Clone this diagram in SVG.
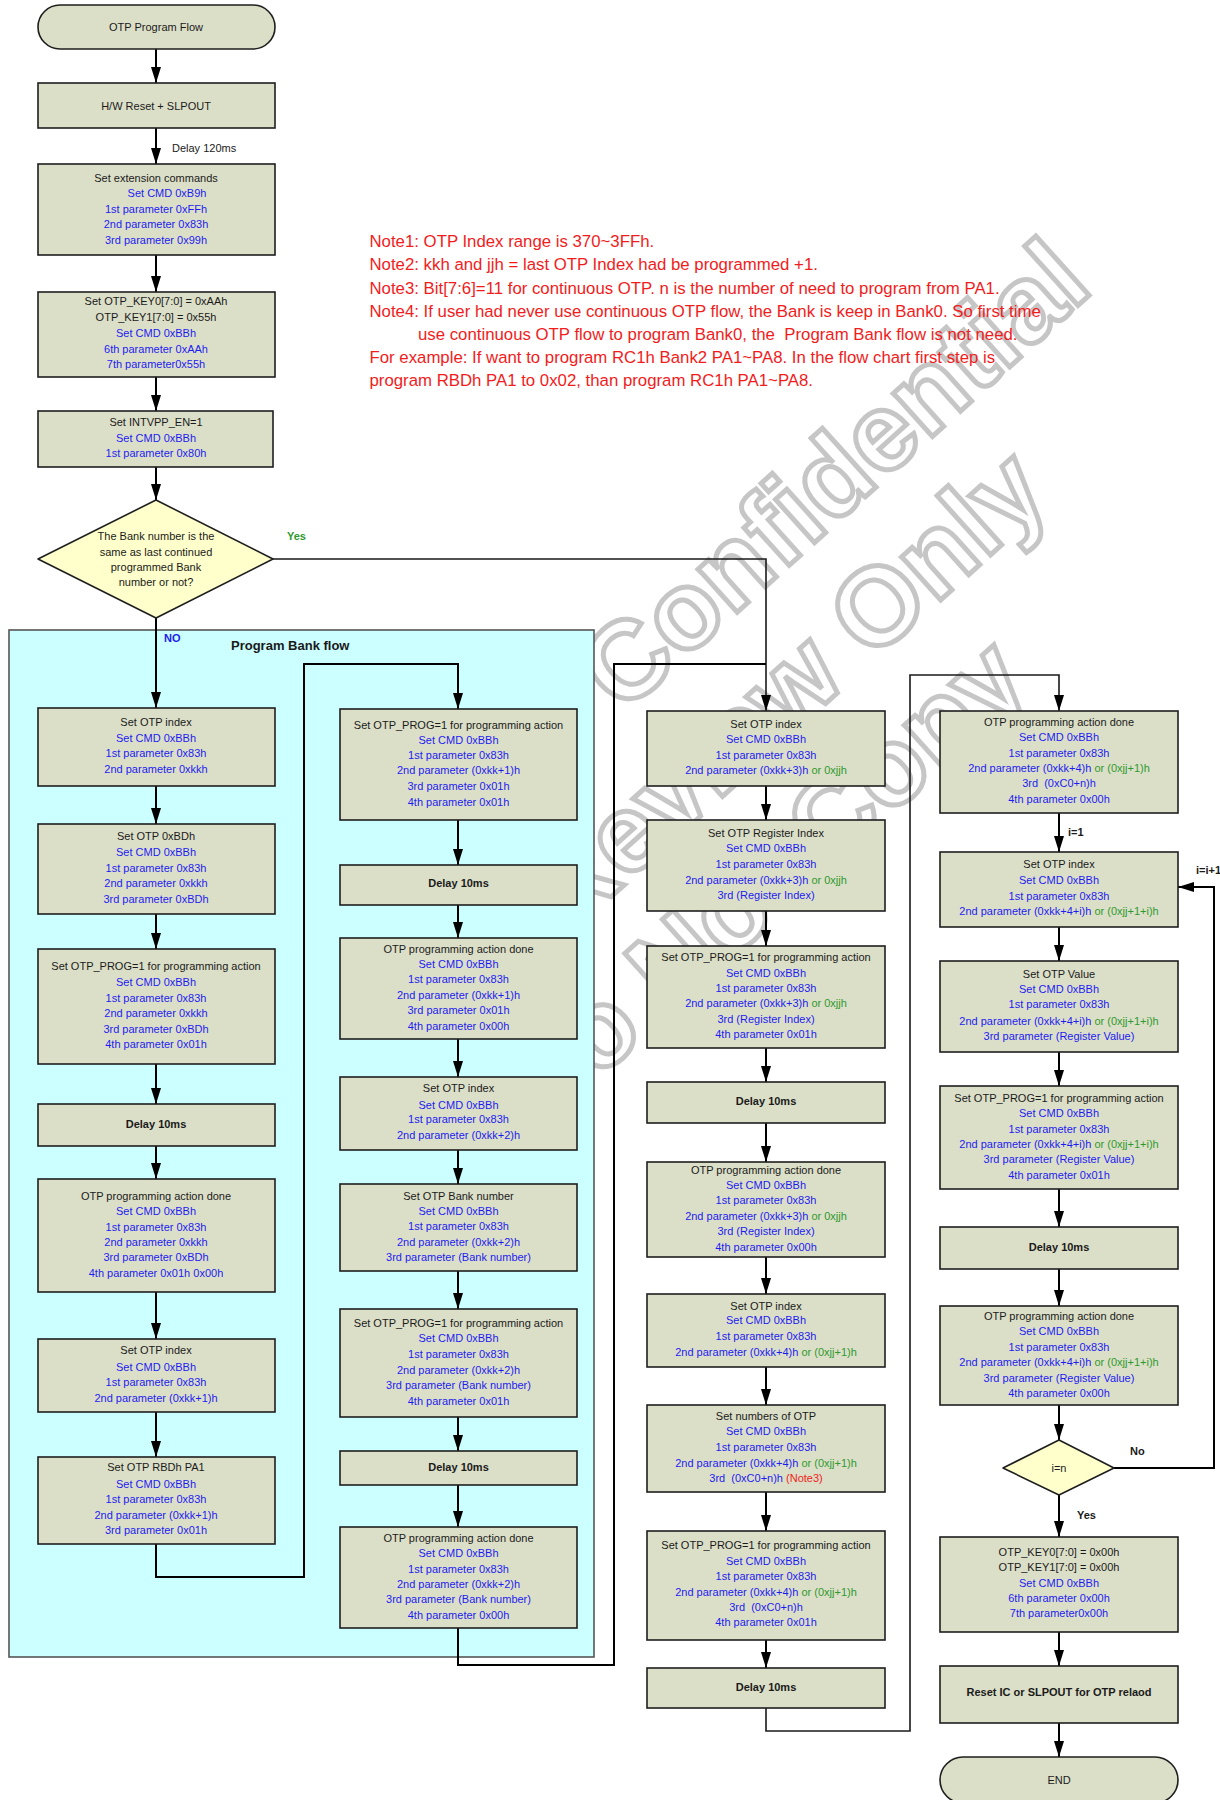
<svg xmlns="http://www.w3.org/2000/svg" width="1220" height="1800" viewBox="0 0 1220 1800">
<style>
.bg{fill:#ffffff}
.box{fill:#dcdfc8;stroke:#1e1e1e;stroke-width:1.6}
.term{fill:#dcdfc8;stroke:#1e1e1e;stroke-width:1.6}
.dia{fill:#ffffcc;stroke:#1e1e1e;stroke-width:1.6;stroke-linejoin:round}
.panel{fill:#ccffff;stroke:#555555;stroke-width:1.6}
.t{font-family:"Liberation Sans",Arial,Helvetica,sans-serif;font-size:11px;text-anchor:middle}
.l{font-family:"Liberation Sans",Arial,Helvetica,sans-serif;font-size:11px}
.k{fill:#1a1a1a}
.b{fill:#1c1cf2}
.g{fill:#2e9a2e}
.r{fill:#f21c1c}
.bd{font-weight:bold}
.note{font-family:"Liberation Sans",Arial,Helvetica,sans-serif;font-size:16.8px;fill:#f21c1c}
.wire{fill:none;stroke:#000000;stroke-width:2}
.wire2{fill:none;stroke:#1a1a1a;stroke-width:1.6}
.arr{marker-end:url(#ah)}
.wm{font-family:"Liberation Sans",Arial,Helvetica,sans-serif;font-weight:bold;font-size:110px;fill:none;stroke:#c6c6c6;stroke-width:5;text-anchor:middle}
</style>
<defs>
<marker id="ah" markerUnits="userSpaceOnUse" markerWidth="16" markerHeight="10" refX="16" refY="5" orient="auto"><path d="M0,0 L16,5 L0,10 z" fill="#000000"/></marker>
</defs>
<rect class="bg" x="0" y="0" width="1220" height="1800"/>

<g id="watermark" transform="rotate(-42 832 473)">
<text class="wm" x="832" y="513">Confidential</text>
<text class="wm" x="652" y="640">Review Only</text>
<text class="wm" x="505" y="767">Do Not Copy</text>
</g>

<g id="panel">
<rect class="panel" x="9" y="630" width="585" height="1027"/>
<text class="l bd k" x="231" y="650" style="font-size:13px">Program Bank flow</text>
</g>

<g id="connectors">
<path class="wire arr" d="M156,49 V83"/>
<path class="wire arr" d="M156,128 V164"/>
<path class="wire arr" d="M156,255 V292"/>
<path class="wire arr" d="M156,377 V411"/>
<path class="wire arr" d="M156,467 V500"/>
<path class="wire arr" d="M156,618 V708"/>
<path class="wire2 arr" d="M273,559 H766 V711"/>
<path class="wire arr" d="M156,786 V824"/>
<path class="wire arr" d="M156,914 V949"/>
<path class="wire arr" d="M156,1064 V1104"/>
<path class="wire arr" d="M156,1146 V1179"/>
<path class="wire arr" d="M156,1292 V1339"/>
<path class="wire arr" d="M156,1412 V1457"/>
<path class="wire arr" d="M156,1544 V1577 H304 V664 H458 V709"/>
<path class="wire arr" d="M458,820 V865"/>
<path class="wire arr" d="M458,905 V938"/>
<path class="wire arr" d="M458,1039 V1077"/>
<path class="wire arr" d="M458,1150 V1184"/>
<path class="wire arr" d="M458,1271 V1309"/>
<path class="wire arr" d="M458,1417 V1451"/>
<path class="wire arr" d="M458,1485 V1527"/>
<path class="wire" d="M458,1628 V1665 H614 V664 H766"/>
<path class="wire arr" d="M766,786 V820"/>
<path class="wire arr" d="M766,911 V946"/>
<path class="wire arr" d="M766,1048 V1082"/>
<path class="wire arr" d="M766,1123 V1162"/>
<path class="wire arr" d="M766,1257 V1294"/>
<path class="wire arr" d="M766,1367 V1405"/>
<path class="wire arr" d="M766,1492 V1531"/>
<path class="wire arr" d="M766,1640 V1668"/>
<path class="wire2 arr" d="M766,1708 V1731 H910 V675 H1059 V711"/>
<path class="wire arr" d="M1059,813 V852"/>
<path class="wire arr" d="M1059,927 V961"/>
<path class="wire arr" d="M1059,1052 V1086"/>
<path class="wire arr" d="M1059,1189 V1227"/>
<path class="wire arr" d="M1059,1269 V1306"/>
<path class="wire arr" d="M1059,1405 V1440"/>
<path class="wire arr" d="M1059,1495 V1537"/>
<path class="wire arr" d="M1059,1632 V1666"/>
<path class="wire arr" d="M1059,1723 V1757"/>
<path class="wire arr" d="M1114,1468 H1214 V887 H1178"/>
<text class="l k" x="172" y="152">Delay 120ms</text>
<text class="l bd g" x="287" y="540">Yes</text>
<text class="l bd b" x="164" y="642">NO</text>
<text class="l bd k" x="1068" y="836">i=1</text>
<text class="l bd k" x="1196" y="874">i=i+1</text>
<text class="l bd k" x="1130" y="1455">No</text>
<text class="l bd k" x="1077" y="1519">Yes</text>
</g>

<g id="n_start"><rect class="term" x="38" y="5" width="237" height="44" rx="22"/><text class="t k" x="156" y="30.5">OTP Program Flow</text></g>
<g id="n_reset"><rect class="box" x="38" y="83" width="237" height="45"/><text class="t k" x="156" y="109.5">H/W Reset + SLPOUT</text></g>
<g id="n_ext"><rect class="box" x="38" y="164" width="237" height="91"/>
<text class="t k" x="156" y="182">Set extension commands</text>
<text class="t b" x="167" y="197">Set CMD 0xB9h</text>
<text class="t b" x="156" y="213">1st parameter 0xFFh</text>
<text class="t b" x="156" y="228">2nd parameter 0x83h</text>
<text class="t b" x="156" y="244">3rd parameter 0x99h</text></g>
<g id="n_key"><rect class="box" x="38" y="292" width="237" height="85"/>
<text class="t k" x="156" y="305">Set OTP_KEY0[7:0] = 0xAAh</text>
<text class="t k" x="156" y="321">OTP_KEY1[7:0] = 0x55h</text>
<text class="t b" x="156" y="337">Set CMD 0xBBh</text>
<text class="t b" x="156" y="352.5">6th parameter 0xAAh</text>
<text class="t b" x="156" y="368">7th parameter0x55h</text></g>
<g id="n_intvpp"><rect class="box" x="38" y="411" width="235" height="56"/>
<text class="t k" x="156" y="426">Set INTVPP_EN=1</text>
<text class="t b" x="156" y="441.5">Set CMD 0xBBh</text>
<text class="t b" x="156" y="457">1st parameter 0x80h</text></g>
<g id="n_bank"><polygon class="dia" points="156,500 273,559 156,618 38,559"/>
<text class="t k" x="156" y="539.5">The Bank number is the</text>
<text class="t k" x="156" y="555.5">same as last continued</text>
<text class="t k" x="156" y="571">programmed Bank</text>
<text class="t k" x="156" y="586">number or not?</text></g>

<g id="n_p1"><rect class="box" x="38" y="708" width="237" height="78"/>
<text class="t k" x="156" y="726">Set OTP index</text>
<text class="t b" x="156" y="742">Set CMD 0xBBh</text>
<text class="t b" x="156" y="757">1st parameter 0x83h</text>
<text class="t b" x="156" y="773">2nd parameter 0xkkh</text></g>
<g id="n_p2"><rect class="box" x="38" y="824" width="237" height="90"/>
<text class="t k" x="156" y="840">Set OTP 0xBDh</text>
<text class="t b" x="156" y="856">Set CMD 0xBBh</text>
<text class="t b" x="156" y="871.5">1st parameter 0x83h</text>
<text class="t b" x="156" y="887">2nd parameter 0xkkh</text>
<text class="t b" x="156" y="902.5">3rd parameter 0xBDh</text></g>
<g id="n_p3"><rect class="box" x="38" y="949" width="237" height="115"/>
<text class="t k" x="156" y="970">Set OTP_PROG=1 for programming action</text>
<text class="t b" x="156" y="986">Set CMD 0xBBh</text>
<text class="t b" x="156" y="1001.5">1st parameter 0x83h</text>
<text class="t b" x="156" y="1017">2nd parameter 0xkkh</text>
<text class="t b" x="156" y="1032.5">3rd parameter 0xBDh</text>
<text class="t b" x="156" y="1048">4th parameter 0x01h</text></g>
<g id="n_p4"><rect class="box" x="38" y="1104" width="237" height="42"/><text class="t k bd" x="156" y="1128">Delay 10ms</text></g>
<g id="n_p5"><rect class="box" x="38" y="1179" width="237" height="113"/>
<text class="t k" x="156" y="1200">OTP programming action done</text>
<text class="t b" x="156" y="1215">Set CMD 0xBBh</text>
<text class="t b" x="156" y="1231">1st parameter 0x83h</text>
<text class="t b" x="156" y="1246">2nd parameter 0xkkh</text>
<text class="t b" x="156" y="1261">3rd parameter 0xBDh</text>
<text class="t b" x="156" y="1277">4th parameter 0x01h 0x00h</text></g>
<g id="n_p6"><rect class="box" x="38" y="1339" width="237" height="73"/>
<text class="t k" x="156" y="1354">Set OTP index</text>
<text class="t b" x="156" y="1371">Set CMD 0xBBh</text>
<text class="t b" x="156" y="1386">1st parameter 0x83h</text>
<text class="t b" x="156" y="1402">2nd parameter (0xkk+1)h</text></g>
<g id="n_p7"><rect class="box" x="38" y="1457" width="237" height="87"/>
<text class="t k" x="156" y="1471">Set OTP RBDh PA1</text>
<text class="t b" x="156" y="1488">Set CMD 0xBBh</text>
<text class="t b" x="156" y="1503">1st parameter 0x83h</text>
<text class="t b" x="156" y="1519">2nd parameter (0xkk+1)h</text>
<text class="t b" x="156" y="1534">3rd parameter 0x01h</text></g>

<g id="n_q1"><rect class="box" x="340" y="709" width="237" height="111"/>
<text class="t k" x="458.5" y="728.5">Set OTP_PROG=1 for programming action</text>
<text class="t b" x="458.5" y="743.5">Set CMD 0xBBh</text>
<text class="t b" x="458.5" y="759">1st parameter 0x83h</text>
<text class="t b" x="458.5" y="774">2nd parameter (0xkk+1)h</text>
<text class="t b" x="458.5" y="789.5">3rd parameter 0x01h</text>
<text class="t b" x="458.5" y="805.5">4th parameter 0x01h</text></g>
<g id="n_q2"><rect class="box" x="340" y="865" width="237" height="40"/><text class="t k bd" x="458.5" y="887">Delay 10ms</text></g>
<g id="n_q3"><rect class="box" x="340" y="938" width="237" height="101"/>
<text class="t k" x="458.5" y="952.5">OTP programming action done</text>
<text class="t b" x="458.5" y="967.5">Set CMD 0xBBh</text>
<text class="t b" x="458.5" y="983">1st parameter 0x83h</text>
<text class="t b" x="458.5" y="998.5">2nd parameter (0xkk+1)h</text>
<text class="t b" x="458.5" y="1013.5">3rd parameter 0x01h</text>
<text class="t b" x="458.5" y="1029.5">4th parameter 0x00h</text></g>
<g id="n_q4"><rect class="box" x="340" y="1077" width="237" height="73"/>
<text class="t k" x="458.5" y="1092">Set OTP index</text>
<text class="t b" x="458.5" y="1108.5">Set CMD 0xBBh</text>
<text class="t b" x="458.5" y="1123">1st parameter 0x83h</text>
<text class="t b" x="458.5" y="1139">2nd parameter (0xkk+2)h</text></g>
<g id="n_q5"><rect class="box" x="340" y="1184" width="237" height="87"/>
<text class="t k" x="458.5" y="1200">Set OTP Bank number</text>
<text class="t b" x="458.5" y="1215">Set CMD 0xBBh</text>
<text class="t b" x="458.5" y="1230">1st parameter 0x83h</text>
<text class="t b" x="458.5" y="1246">2nd parameter (0xkk+2)h</text>
<text class="t b" x="458.5" y="1261">3rd parameter (Bank number)</text></g>
<g id="n_q6"><rect class="box" x="340" y="1309" width="237" height="108"/>
<text class="t k" x="458.5" y="1327">Set OTP_PROG=1 for programming action</text>
<text class="t b" x="458.5" y="1342">Set CMD 0xBBh</text>
<text class="t b" x="458.5" y="1358">1st parameter 0x83h</text>
<text class="t b" x="458.5" y="1374">2nd parameter (0xkk+2)h</text>
<text class="t b" x="458.5" y="1389">3rd parameter (Bank number)</text>
<text class="t b" x="458.5" y="1405">4th parameter 0x01h</text></g>
<g id="n_q7"><rect class="box" x="340" y="1451" width="237" height="34"/><text class="t k bd" x="458.5" y="1471">Delay 10ms</text></g>
<g id="n_q8"><rect class="box" x="340" y="1527" width="237" height="101"/>
<text class="t k" x="458.5" y="1542">OTP programming action done</text>
<text class="t b" x="458.5" y="1557">Set CMD 0xBBh</text>
<text class="t b" x="458.5" y="1573">1st parameter 0x83h</text>
<text class="t b" x="458.5" y="1588">2nd parameter (0xkk+2)h</text>
<text class="t b" x="458.5" y="1603">3rd parameter (Bank number)</text>
<text class="t b" x="458.5" y="1619">4th parameter 0x00h</text></g>

<g id="n_r1"><rect class="box" x="647" y="711" width="238" height="75"/>
<text class="t k" x="766" y="727.5">Set OTP index</text>
<text class="t b" x="766" y="743">Set CMD 0xBBh</text>
<text class="t b" x="766" y="758.5">1st parameter 0x83h</text>
<text class="t b" x="766" y="773.5">2nd parameter (0xkk+3)h<tspan class="g"> or 0xjjh</tspan></text></g>
<g id="n_r2"><rect class="box" x="647" y="820" width="238" height="91"/>
<text class="t k" x="766" y="836.5">Set OTP Register Index</text>
<text class="t b" x="766" y="852">Set CMD 0xBBh</text>
<text class="t b" x="766" y="867.5">1st parameter 0x83h</text>
<text class="t b" x="766" y="883.5">2nd parameter (0xkk+3)h<tspan class="g"> or 0xjjh</tspan></text>
<text class="t b" x="766" y="898.5">3rd (Register Index)</text></g>
<g id="n_r3"><rect class="box" x="647" y="946" width="238" height="102"/>
<text class="t k" x="766" y="960.5">Set OTP_PROG=1 for programming action</text>
<text class="t b" x="766" y="976.5">Set CMD 0xBBh</text>
<text class="t b" x="766" y="991.5">1st parameter 0x83h</text>
<text class="t b" x="766" y="1006.5">2nd parameter (0xkk+3)h<tspan class="g"> or 0xjjh</tspan></text>
<text class="t b" x="766" y="1022.5">3rd (Register Index)</text>
<text class="t b" x="766" y="1037.5">4th parameter 0x01h</text></g>
<g id="n_r4"><rect class="box" x="647" y="1082" width="238" height="41"/><text class="t k bd" x="766" y="1104.5">Delay 10ms</text></g>
<g id="n_r5"><rect class="box" x="647" y="1162" width="238" height="95"/>
<text class="t k" x="766" y="1173.5">OTP programming action done</text>
<text class="t b" x="766" y="1188.5">Set CMD 0xBBh</text>
<text class="t b" x="766" y="1203.5">1st parameter 0x83h</text>
<text class="t b" x="766" y="1219.5">2nd parameter (0xkk+3)h<tspan class="g"> or 0xjjh</tspan></text>
<text class="t b" x="766" y="1234.5">3rd (Register Index)</text>
<text class="t b" x="766" y="1250.5">4th parameter 0x00h</text></g>
<g id="n_r6"><rect class="box" x="647" y="1294" width="238" height="73"/>
<text class="t k" x="766" y="1309.5">Set OTP index</text>
<text class="t b" x="766" y="1324">Set CMD 0xBBh</text>
<text class="t b" x="766" y="1340">1st parameter 0x83h</text>
<text class="t b" x="766" y="1355.5">2nd parameter (0xkk+4)h<tspan class="g"> or (0xjj+1)h</tspan></text></g>
<g id="n_r7"><rect class="box" x="647" y="1405" width="238" height="87"/>
<text class="t k" x="766" y="1419.5">Set numbers of OTP</text>
<text class="t b" x="766" y="1435">Set CMD 0xBBh</text>
<text class="t b" x="766" y="1451">1st parameter 0x83h</text>
<text class="t b" x="766" y="1466.5">2nd parameter (0xkk+4)h<tspan class="g"> or (0xjj+1)h</tspan></text>
<text class="t b" x="766" y="1481.5" xml:space="preserve">3rd  (0xC0+n)h<tspan class="r"> (Note3)</tspan></text></g>
<g id="n_r8"><rect class="box" x="647" y="1531" width="238" height="109"/>
<text class="t k" x="766" y="1549">Set OTP_PROG=1 for programming action</text>
<text class="t b" x="766" y="1564.5">Set CMD 0xBBh</text>
<text class="t b" x="766" y="1579.5">1st parameter 0x83h</text>
<text class="t b" x="766" y="1595.5">2nd parameter (0xkk+4)h<tspan class="g"> or (0xjj+1)h</tspan></text>
<text class="t b" x="766" y="1610.5" xml:space="preserve">3rd  (0xC0+n)h</text>
<text class="t b" x="766" y="1625.5">4th parameter 0x01h</text></g>
<g id="n_r9"><rect class="box" x="647" y="1668" width="238" height="40"/><text class="t k bd" x="766" y="1690.5">Delay 10ms</text></g>

<g id="n_s1"><rect class="box" x="940" y="711" width="238" height="102"/>
<text class="t k" x="1059" y="725.5">OTP programming action done</text>
<text class="t b" x="1059" y="740.5">Set CMD 0xBBh</text>
<text class="t b" x="1059" y="756.5">1st parameter 0x83h</text>
<text class="t b" x="1059" y="771.5">2nd parameter (0xkk+4)h<tspan class="g"> or (0xjj+1)h</tspan></text>
<text class="t b" x="1059" y="787" xml:space="preserve">3rd  (0xC0+n)h</text>
<text class="t b" x="1059" y="802.5">4th parameter 0x00h</text></g>
<g id="n_s2"><rect class="box" x="940" y="852" width="238" height="75"/>
<text class="t k" x="1059" y="868">Set OTP index</text>
<text class="t b" x="1059" y="883.5">Set CMD 0xBBh</text>
<text class="t b" x="1059" y="899.5">1st parameter 0x83h</text>
<text class="t b" x="1059" y="914.5">2nd parameter (0xkk+4+i)h<tspan class="g"> or (0xjj+1+i)h</tspan></text></g>
<g id="n_s3"><rect class="box" x="940" y="961" width="238" height="91"/>
<text class="t k" x="1059" y="978">Set OTP Value</text>
<text class="t b" x="1059" y="993">Set CMD 0xBBh</text>
<text class="t b" x="1059" y="1008">1st parameter 0x83h</text>
<text class="t b" x="1059" y="1024.5">2nd parameter (0xkk+4+i)h<tspan class="g"> or (0xjj+1+i)h</tspan></text>
<text class="t b" x="1059" y="1039.5">3rd parameter (Register Value)</text></g>
<g id="n_s4"><rect class="box" x="940" y="1086" width="238" height="103"/>
<text class="t k" x="1059" y="1101.5">Set OTP_PROG=1 for programming action</text>
<text class="t b" x="1059" y="1116.5">Set CMD 0xBBh</text>
<text class="t b" x="1059" y="1132.5">1st parameter 0x83h</text>
<text class="t b" x="1059" y="1147.5">2nd parameter (0xkk+4+i)h<tspan class="g"> or (0xjj+1+i)h</tspan></text>
<text class="t b" x="1059" y="1162.5">3rd parameter (Register Value)</text>
<text class="t b" x="1059" y="1178.5">4th parameter 0x01h</text></g>
<g id="n_s5"><rect class="box" x="940" y="1227" width="238" height="42"/><text class="t k bd" x="1059" y="1250.5">Delay 10ms</text></g>
<g id="n_s6"><rect class="box" x="940" y="1306" width="238" height="99"/>
<text class="t k" x="1059" y="1320">OTP programming action done</text>
<text class="t b" x="1059" y="1334.5">Set CMD 0xBBh</text>
<text class="t b" x="1059" y="1350.5">1st parameter 0x83h</text>
<text class="t b" x="1059" y="1365.5">2nd parameter (0xkk+4+i)h<tspan class="g"> or (0xjj+1+i)h</tspan></text>
<text class="t b" x="1059" y="1381.5">3rd parameter (Register Value)</text>
<text class="t b" x="1059" y="1396.5">4th parameter 0x00h</text></g>
<g id="n_s7"><polygon class="dia" points="1059,1440 1114,1468 1059,1495 1003,1468"/><text class="t k" x="1059" y="1472">i=n</text></g>
<g id="n_s8"><rect class="box" x="940" y="1537" width="238" height="95"/>
<text class="t k" x="1059" y="1555.5">OTP_KEY0[7:0] = 0x00h</text>
<text class="t k" x="1059" y="1571">OTP_KEY1[7:0] = 0x00h</text>
<text class="t b" x="1059" y="1586.5">Set CMD 0xBBh</text>
<text class="t b" x="1059" y="1601.5">6th parameter 0x00h</text>
<text class="t b" x="1059" y="1617">7th parameter0x00h</text></g>
<g id="n_s9"><rect class="box" x="940" y="1666" width="238" height="57"/><text class="t k bd" x="1059" y="1696">Reset IC or SLPOUT for OTP relaod</text></g>
<g id="n_s10"><rect class="term" x="940" y="1757" width="238" height="46" rx="23"/><text class="t k" x="1059" y="1784">END</text></g>

<g id="notes">
<text class="note" x="369.5" y="247">Note1: OTP Index range is 370~3FFh.</text>
<text class="note" x="369.5" y="270">Note2: kkh and jjh = last OTP Index had be programmed +1.</text>
<text class="note" x="369.5" y="294">Note3: Bit[7:6]=11 for continuous OTP. n is the number of need to program from PA1.</text>
<text class="note" x="369.5" y="317">Note4: If user had never use continuous OTP flow, the Bank is keep in Bank0. So first time</text>
<text class="note" x="418" y="340" xml:space="preserve">use continuous OTP flow to program Bank0, the  Program Bank flow is not need.</text>
<text class="note" x="369.5" y="363">For example: If want to program RC1h Bank2 PA1~PA8. In the flow chart first step is</text>
<text class="note" x="369.5" y="386">program RBDh PA1 to 0x02, than program RC1h PA1~PA8.</text>
</g>
</svg>
